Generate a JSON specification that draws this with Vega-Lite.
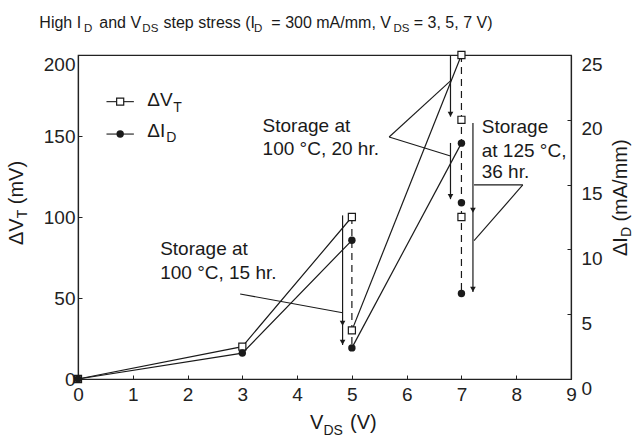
{
  "$schema": "https://vega.github.io/schema/vega-lite/v6.json",
  "width": 493,
  "height": 324,
  "autosize": {"type": "none"},
  "padding": {"left": 78, "top": 55, "right": 64, "bottom": 60},
  "background": "white",
  "config": {
    "view": {"stroke": "#222", "strokeWidth": 1.2},
    "font": "Liberation Sans",
    "axis": {
      "domainColor": "#222", "domainWidth": 1.2, "tickColor": "#222", "tickSize": -4,
      "labelColor": "#222", "labelFont": "Liberation Sans", "labelFontSize": 19, "grid": false, "labelFlush": false
    },
    "text": {"font": "Liberation Sans", "color": "#1a1a1a"}
  },
  "datasets": {
    "vt": [
      {"x": 0, "y": 0, "seg": "a"},
      {"x": 3, "y": 20, "seg": "a"},
      {"x": 5, "y": 100, "seg": "a"},
      {"x": 5, "y": 30, "seg": "b"},
      {"x": 7, "y": 200, "seg": "b"},
      {"x": 7, "y": 160, "seg": "c"},
      {"x": 7, "y": 100, "seg": "c"}
    ],
    "id": [
      {"x": 0, "id": 0, "seg": "a"},
      {"x": 3, "id": 2, "seg": "a"},
      {"x": 5, "id": 10.7, "seg": "a"},
      {"x": 5, "id": 2.4, "seg": "b"},
      {"x": 7, "id": 18.2, "seg": "b"},
      {"x": 7, "id": 13.6, "seg": "c"},
      {"x": 7, "id": 6.6, "seg": "c"}
    ],
    "dashed": [
      {"x": 5, "y": 100, "y2": 19.2},
      {"x": 7, "y": 200, "y2": 52.8}
    ],
    "arrows": [
      {"x": 4.83, "y": 101, "y2": 21},
      {"x": 6.8, "y": 200, "y2": 162},
      {"x": 6.8, "y": 145.7, "y2": 111},
      {"x": 7.21, "y": 158, "y2": 53.7}
    ],
    "heads": [
      {"x": 4.83, "y": 34.4},
      {"x": 4.83, "y": 22.7},
      {"x": 6.8, "y": 163.4},
      {"x": 6.8, "y": 112.7},
      {"x": 7.21, "y": 104.2},
      {"x": 7.21, "y": 55.4}
    ],
    "segments": [
      {"x": 2.96, "y": 52.5, "x2": 4.83, "y2": 40.9},
      {"x": 5.68, "y": 149.4, "x2": 6.82, "y2": 184.6},
      {"x": 5.68, "y": 149.4, "x2": 6.8, "y2": 137.7},
      {"x": 7.23, "y": 119.8, "x2": 8.12, "y2": 119.8},
      {"x": 8.12, "y": 119.8, "x2": 7.23, "y2": 85.4},
      {"x": 0.52, "y": 171.2, "x2": 1.02, "y2": 171.2},
      {"x": 0.52, "y": 151.2, "x2": 1.02, "y2": 151.2}
    ],
    "legendSquare": [{"x": 0.77, "y": 171.2}],
    "legendCircle": [{"x": 0.77, "y": 151.2}],
    "notes": [
      {"x": 1.5, "y": 76.5, "text": "Storage at"},
      {"x": 1.5, "y": 61.7, "text": "100 °C, 15 hr."},
      {"x": 3.37, "y": 152.5, "text": "Storage at"},
      {"x": 3.37, "y": 138.3, "text": "100 °C, 20 hr."},
      {"x": 7.37, "y": 151.9, "text": "Storage"},
      {"x": 7.37, "y": 137, "text": "at 125 °C,"},
      {"x": 7.37, "y": 124, "text": "36 hr."},
      {"x": 1.265, "y": 168.5, "text": "ΔV"},
      {"x": 1.265, "y": 149.6, "text": "ΔI"}
    ],
    "noteSubs": [
      {"x": 1.74, "y": 165, "text": "T"},
      {"x": 1.61, "y": 146.5, "text": "D"}
    ],
    "title": [
      {"x": -0.706, "y": 216.7, "text": "High I"},
      {"x": 0.389, "y": 216.7, "text": "and V"},
      {"x": 1.56, "y": 216.7, "text": "step stress (I"},
      {"x": 3.53, "y": 216.7, "text": "= 300 mA/mm, V"},
      {"x": 6.13, "y": 216.7, "text": "= 3, 5, 7 V)"}
    ],
    "titleSubs": [
      {"x": 0.11, "y": 214.2, "text": "D"},
      {"x": 1.175, "y": 214.2, "text": "DS"},
      {"x": 3.215, "y": 214.2, "text": "D"},
      {"x": 5.76, "y": 214.2, "text": "DS"}
    ],
    "axisTitles": [
      {"x": 4.235, "y": -30.9, "text": "V"},
      {"x": 4.965, "y": -30.9, "text": "(V)"}
    ],
    "axisTitleSubs": [
      {"x": 4.48, "y": -34.6, "text": "DS"}
    ],
    "rotTitles": [
      {"x": -1.004, "y": 82.7, "text": "ΔV"},
      {"x": -1.004, "y": 107.9, "text": "(mV)"},
      {"x": 10.022, "y": 75.9, "text": "ΔI"},
      {"x": 10.022, "y": 97.2, "text": "(mA/mm)"}
    ],
    "rotTitleSubs": [
      {"x": -0.931, "y": 99.2, "text": "T"},
      {"x": 10.095, "y": 87.6, "text": "D"}
    ]
  },
  "encoding": {
    "x": {
      "field": "x", "type": "quantitative",
      "scale": {"domain": [0, 9], "nice": false},
      "axis": {"title": null, "values": [0, 1, 2, 3, 4, 5, 6, 7, 8, 9], "labelPadding": 10, "labelAngle": 0, "format": "d"}
    }
  },
  "layer": [
    {
      "layer": [
        {
          "data": {"name": "dashed"},
          "mark": {"type": "rule", "color": "#1a1a1a", "strokeWidth": 1.2, "strokeDash": [7, 5]},
          "encoding": {
            "y": {
              "field": "y", "type": "quantitative",
              "scale": {"domain": [0, 200], "nice": false},
              "axis": {
                "title": null, "values": [0, 50, 100, 150, 200], "labelPadding": 7,
                "labelBaseline": {"condition": {"test": "datum.value == 200", "value": "top"}, "value": "middle"}
              }
            },
            "y2": {"field": "y2"}
          }
        },
        {
          "data": {"name": "vt"},
          "transform": [{"filter": "datum.seg != 'c'"}],
          "mark": {"type": "line", "color": "#1a1a1a", "strokeWidth": 1.2},
          "encoding": {"y": {"field": "y", "type": "quantitative"}, "detail": {"field": "seg"}}
        },
        {
          "data": {"name": "arrows"},
          "mark": {"type": "rule", "color": "#1a1a1a", "strokeWidth": 1.2},
          "encoding": {"y": {"field": "y", "type": "quantitative"}, "y2": {"field": "y2"}}
        },
        {
          "data": {"name": "heads"},
          "mark": {"type": "point", "shape": "triangle-down", "filled": true, "color": "#1a1a1a", "size": 32, "opacity": 1},
          "encoding": {"y": {"field": "y", "type": "quantitative"}}
        },
        {
          "data": {"name": "segments"},
          "mark": {"type": "rule", "color": "#1a1a1a", "strokeWidth": 1.1},
          "encoding": {"y": {"field": "y", "type": "quantitative"}, "x2": {"field": "x2"}, "y2": {"field": "y2"}}
        },
        {
          "data": {"name": "vt"},
          "mark": {"type": "point", "shape": "square", "filled": true, "fill": "white", "stroke": "#1a1a1a", "strokeWidth": 1.2, "size": 50, "opacity": 1},
          "encoding": {"y": {"field": "y", "type": "quantitative"}}
        },
        {
          "data": {"name": "legendSquare"},
          "mark": {"type": "point", "shape": "square", "filled": true, "fill": "white", "stroke": "#1a1a1a", "strokeWidth": 1.2, "size": 50, "opacity": 1},
          "encoding": {"y": {"field": "y", "type": "quantitative"}}
        },
        {
          "data": {"name": "legendCircle"},
          "mark": {"type": "point", "shape": "circle", "filled": true, "color": "#1a1a1a", "size": 55, "opacity": 1},
          "encoding": {"y": {"field": "y", "type": "quantitative"}}
        },
        {
          "data": {"name": "notes"},
          "mark": {"type": "text", "align": "left", "baseline": "alphabetic", "fontSize": 19},
          "encoding": {"y": {"field": "y", "type": "quantitative"}, "text": {"field": "text"}}
        },
        {
          "data": {"name": "noteSubs"},
          "mark": {"type": "text", "align": "left", "baseline": "alphabetic", "fontSize": 14},
          "encoding": {"y": {"field": "y", "type": "quantitative"}, "text": {"field": "text"}}
        },
        {
          "data": {"name": "title"},
          "mark": {"type": "text", "align": "left", "baseline": "alphabetic", "fontSize": 16},
          "encoding": {"y": {"field": "y", "type": "quantitative"}, "text": {"field": "text"}}
        },
        {
          "data": {"name": "titleSubs"},
          "mark": {"type": "text", "align": "left", "baseline": "alphabetic", "fontSize": 11.5},
          "encoding": {"y": {"field": "y", "type": "quantitative"}, "text": {"field": "text"}}
        },
        {
          "data": {"name": "axisTitles"},
          "mark": {"type": "text", "align": "left", "baseline": "alphabetic", "fontSize": 20},
          "encoding": {"y": {"field": "y", "type": "quantitative"}, "text": {"field": "text"}}
        },
        {
          "data": {"name": "axisTitleSubs"},
          "mark": {"type": "text", "align": "left", "baseline": "alphabetic", "fontSize": 14},
          "encoding": {"y": {"field": "y", "type": "quantitative"}, "text": {"field": "text"}}
        },
        {
          "data": {"name": "rotTitles"},
          "mark": {"type": "text", "align": "left", "baseline": "alphabetic", "fontSize": 20, "angle": 270},
          "encoding": {"y": {"field": "y", "type": "quantitative"}, "text": {"field": "text"}}
        },
        {
          "data": {"name": "rotTitleSubs"},
          "mark": {"type": "text", "align": "left", "baseline": "alphabetic", "fontSize": 14, "angle": 270},
          "encoding": {"y": {"field": "y", "type": "quantitative"}, "text": {"field": "text"}}
        }
      ]
    },
    {
      "layer": [
        {
          "data": {"name": "id"},
          "transform": [{"filter": "datum.seg != 'c'"}],
          "mark": {"type": "line", "color": "#1a1a1a", "strokeWidth": 1.2},
          "encoding": {
            "y": {
              "field": "id", "type": "quantitative",
              "scale": {"domain": [0, 25], "nice": false},
              "axis": {"orient": "right", "title": null, "values": [0, 5, 10, 15, 20, 25], "labelBaseline": "top", "labelPadding": 14, "labelAlign": "left"}
            },
            "detail": {"field": "seg"}
          }
        },
        {
          "data": {"name": "id"},
          "mark": {"type": "point", "shape": "circle", "filled": true, "color": "#1a1a1a", "size": 55, "opacity": 1},
          "encoding": {"y": {"field": "id", "type": "quantitative"}}
        }
      ]
    }
  ],
  "resolve": {"scale": {"y": "independent"}}
}
